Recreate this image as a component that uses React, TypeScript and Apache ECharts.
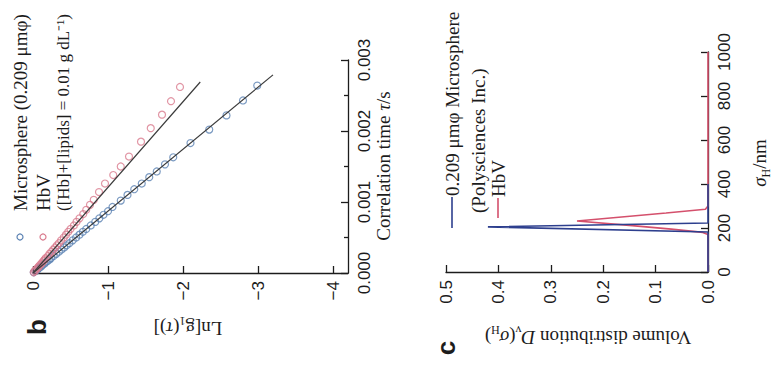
import React, { useEffect, useRef } from "react";
import * as echarts from "echarts";

// ---- Panel b: correlation decay, Ln[g1(tau)] against correlation time ----
// correlation times in milliseconds
const sphereTauMs = [
  0.01, 0.03, 0.05, 0.07, 0.09, 0.11, 0.13, 0.15, 0.17, 0.19, 0.21, 0.24, 0.27,
  0.3, 0.33, 0.36, 0.39, 0.42, 0.46, 0.5, 0.54, 0.58, 0.62, 0.67, 0.72, 0.77,
  0.82, 0.87, 0.93, 1.02, 1.1, 1.18, 1.26, 1.35, 1.43, 1.53, 1.63, 1.83, 2.02,
  2.22, 2.43, 2.64,
];
const sphereLnG = [
  -0.01, -0.035, -0.06, -0.08, -0.105, -0.125, -0.15, -0.17, -0.195, -0.22,
  -0.24, -0.275, -0.31, -0.345, -0.38, -0.415, -0.45, -0.485, -0.53, -0.575,
  -0.62, -0.665, -0.71, -0.77, -0.83, -0.885, -0.94, -1.0, -1.06, -1.17, -1.26,
  -1.35, -1.45, -1.55, -1.65, -1.76, -1.87, -2.1, -2.35, -2.58, -2.8, -2.99,
];
const hbvTauMs = [
  0.01, 0.03, 0.05, 0.07, 0.09, 0.11, 0.13, 0.15, 0.17, 0.19, 0.21, 0.24, 0.27,
  0.3, 0.33, 0.36, 0.39, 0.42, 0.46, 0.5, 0.54, 0.58, 0.62, 0.67, 0.72, 0.77,
  0.83, 0.89, 0.96, 1.03, 1.14, 1.26, 1.38, 1.5, 1.64, 1.85, 2.04, 2.23, 2.42,
  2.62,
];
const hbvLnG = [
  -0.01, -0.025, -0.04, -0.06, -0.075, -0.09, -0.11, -0.125, -0.14, -0.155,
  -0.17, -0.2, -0.22, -0.245, -0.27, -0.295, -0.32, -0.345, -0.375, -0.41,
  -0.44, -0.47, -0.5, -0.545, -0.58, -0.62, -0.67, -0.71, -0.76, -0.81, -0.88,
  -0.96, -1.07, -1.17, -1.28, -1.44, -1.57, -1.72, -1.84, -1.96,
];
// straight-line fits
const sphereFitTauMs = [0, 2.79];
const sphereFitLnG = [0, -3.2];
const hbvFitTauMs = [0, 2.69];
const hbvFitLnG = [0, -2.23];
const lnTicks = [0, -1, -2, -3, -4];

// ---- Panel c: volume distribution against hydrodynamic diameter ----
const sphereSigma = [0, 182, 205, 223, 400];
const sphereDv = [0, 0, 0.42, 0, 0];
const hbvSigma = [0, 170, 180, 195, 212, 232, 250, 268, 285, 300, 1000];
const hbvDv = [0, 0, 0.01, 0.07, 0.15, 0.25, 0.165, 0.08, 0.005, 0, 0];

const BLUE_MARK = "#5b82b3";
const RED_MARK = "#d97a8d";
const BLUE_LINE = "#2d3f8e";
const RED_LINE = "#d4506c";
const INK = "#1c1c1c";
const SANS = '"Liberation Sans", Arial, sans-serif';
const SERIF = '"Liberation Serif", "Times New Roman", serif';

const pairs = (xs: number[], ys: number[]) => xs.map((x, i) => [x, ys[i]]);
const msPairs = (ln: number[], tauMs: number[]) =>
  ln.map((v, i) => [v, tauMs[i] / 1000]);

const R90 = Math.PI / 2;

function axisCommon() {
  return {
    type: "value" as const,
    axisLine: { onZero: false, lineStyle: { color: INK, width: 1.3 } },
    axisTick: { inside: true, length: 7, lineStyle: { color: INK, width: 1.3 } },
    splitLine: { show: false },
    axisLabel: {
      rotate: 90,
      color: INK,
      fontFamily: SANS,
      fontSize: 17,
      margin: 8,
    },
  };
}

export default function App() {
  const ref = useRef<HTMLDivElement>(null);

  useEffect(() => {
    if (!ref.current) return;
    const chart = echarts.init(ref.current, null, { renderer: "svg" });

    const serifRich = {
      a: { fontFamily: SERIF, fontSize: 19, color: INK },
      i: { fontFamily: SERIF, fontSize: 19, fontStyle: "italic", color: INK },
      s: {
        fontFamily: SERIF,
        fontSize: 12,
        color: INK,
        verticalAlign: "bottom",
        lineHeight: 26,
      },
    };

    const rotText = (
      x: number,
      y: number,
      rotation: number,
      text: string,
      align: string,
      rich?: any,
      font?: string
    ) => ({
      type: "text",
      x,
      y,
      rotation,
      style: {
        text,
        rich,
        font: font || `19px ${SERIF}`,
        fill: INK,
        textAlign: align,
        align,
        textVerticalAlign: "middle",
        verticalAlign: "middle",
      },
    });

    const option: any = {
      animation: false,
      backgroundColor: "#ffffff",
      grid: [
        { left: 33, width: 315, top: 60, height: 213 },
        { left: 446, width: 262, top: 52, height: 220 },
      ],
      xAxis: [
        {
          ...axisCommon(),
          gridIndex: 0,
          min: -4.2,
          max: 0,
          inverse: true,
          position: "bottom",
          axisTick: {
            ...axisCommon().axisTick,
            customValues: lnTicks,
          },
          axisLabel: {
            ...axisCommon().axisLabel,
            customValues: lnTicks,
            formatter: (v: number) => (v === 0 ? "0" : "\u2212" + Math.abs(v)),
          },
        },
        {
          ...axisCommon(),
          gridIndex: 1,
          min: 0,
          max: 0.5,
          interval: 0.1,
          inverse: true,
          position: "bottom",
          axisLabel: {
            ...axisCommon().axisLabel,
            formatter: (v: number) => v.toFixed(1),
          },
        },
      ],
      yAxis: [
        {
          ...axisCommon(),
          gridIndex: 0,
          min: 0,
          max: 0.003,
          interval: 0.001,
          position: "right",
          minorTick: {
            show: true,
            splitNumber: 2,
            length: 4,
            lineStyle: { color: INK, width: 1.3 },
          },
          axisLabel: {
            ...axisCommon().axisLabel,
            formatter: (v: number) => v.toFixed(3),
          },
        },
        {
          ...axisCommon(),
          gridIndex: 1,
          min: 0,
          max: 1000,
          interval: 200,
          position: "right",
          axisLabel: {
            ...axisCommon().axisLabel,
            formatter: (v: number) => String(v),
          },
        },
      ],
      series: [
        {
          name: "Microsphere (0.209 μmφ)",
          type: "scatter",
          xAxisIndex: 0,
          yAxisIndex: 0,
          data: msPairs(sphereLnG, sphereTauMs),
          symbol: "circle",
          symbolSize: 7,
          itemStyle: { color: "rgba(0,0,0,0)", borderColor: BLUE_MARK, borderWidth: 1.2 },
        },
        {
          name: "HbV",
          type: "scatter",
          xAxisIndex: 0,
          yAxisIndex: 0,
          data: msPairs(hbvLnG, hbvTauMs),
          symbol: "circle",
          symbolSize: 7,
          itemStyle: { color: "rgba(0,0,0,0)", borderColor: RED_MARK, borderWidth: 1.2 },
        },
        {
          type: "line",
          xAxisIndex: 0,
          yAxisIndex: 0,
          data: msPairs(sphereFitLnG, sphereFitTauMs),
          showSymbol: false,
          lineStyle: { color: "#3a3a3a", width: 1.2 },
        },
        {
          type: "line",
          xAxisIndex: 0,
          yAxisIndex: 0,
          data: msPairs(hbvFitLnG, hbvFitTauMs),
          showSymbol: false,
          lineStyle: { color: "#3a3a3a", width: 1.2 },
        },
        {
          name: "HbV",
          type: "line",
          xAxisIndex: 1,
          yAxisIndex: 1,
          data: pairs(hbvDv, hbvSigma),
          showSymbol: false,
          clip: false,
          lineStyle: { color: RED_LINE, width: 1.6 },
        },
        {
          name: "0.209 μmφ Microsphere",
          type: "line",
          xAxisIndex: 1,
          yAxisIndex: 1,
          data: pairs(sphereDv, sphereSigma),
          showSymbol: false,
          clip: false,
          lineStyle: { color: BLUE_LINE, width: 1.6 },
        },
      ],
      graphic: [
        // panel b legend
        {
          type: "circle",
          shape: { cx: 20, cy: 237, r: 3 },
          style: { fill: "none", stroke: BLUE_MARK, lineWidth: 1.2 },
        },
        rotText(20, 211, R90, "Microsphere (0.209 μmφ)", "left"),
        {
          type: "circle",
          shape: { cx: 43, cy: 237, r: 3 },
          style: { fill: "none", stroke: RED_MARK, lineWidth: 1.2 },
        },
        rotText(43, 211, R90, "HbV", "left"),
        rotText(
          63,
          211,
          R90,
          "([Hb]+[lipids] = 0.01 g dL\u207B\u00B9)",
          "left",
          undefined,
          `17px ${SERIF}`
        ),
        // panel b axis titles
        rotText(
          383,
          166,
          R90,
          "{a|Correlation time }{i|τ}{a|/s}",
          "center",
          serifRich
        ),
        rotText(188, 328, Math.PI, "{a|Ln[g}{s|1}{a|(}{i|τ}{a|)]}", "center", serifRich),
        rotText(37, 327, R90, "b", "center", undefined, `bold 26px ${SANS}`),
        // panel c legend
        {
          type: "line",
          shape: { x1: 452, y1: 228, x2: 452, y2: 197 },
          style: { stroke: BLUE_LINE, lineWidth: 1.6 },
        },
        rotText(452, 196, R90, "0.209 μmφ Microsphere", "left"),
        rotText(478, 213, R90, "(Polysciences Inc.)", "left"),
        {
          type: "line",
          shape: { x1: 498, y1: 218, x2: 498, y2: 198 },
          style: { stroke: RED_LINE, lineWidth: 1.6 },
        },
        rotText(498, 197, R90, "HbV", "left"),
        // panel c axis titles
        rotText(
          588,
          337,
          Math.PI,
          "{a|Volume distribution }{i|D}{s|v}{a|(}{i|σ}{s|H}{a|)}",
          "center",
          serifRich
        ),
        rotText(759, 163, R90, "{i|σ}{s|H}{a|/nm}", "center", serifRich),
        rotText(446, 348, R90, "c", "center", undefined, `bold 26px ${SANS}`),
      ],
    };

    chart.setOption(option);
    return () => chart.dispose();
  }, []);

  return (
    <div
      ref={ref}
      style={{
        position: "fixed",
        left: 0,
        top: 0,
        width: 774,
        height: 365,
        background: "#ffffff",
      }}
    />
  );
}
